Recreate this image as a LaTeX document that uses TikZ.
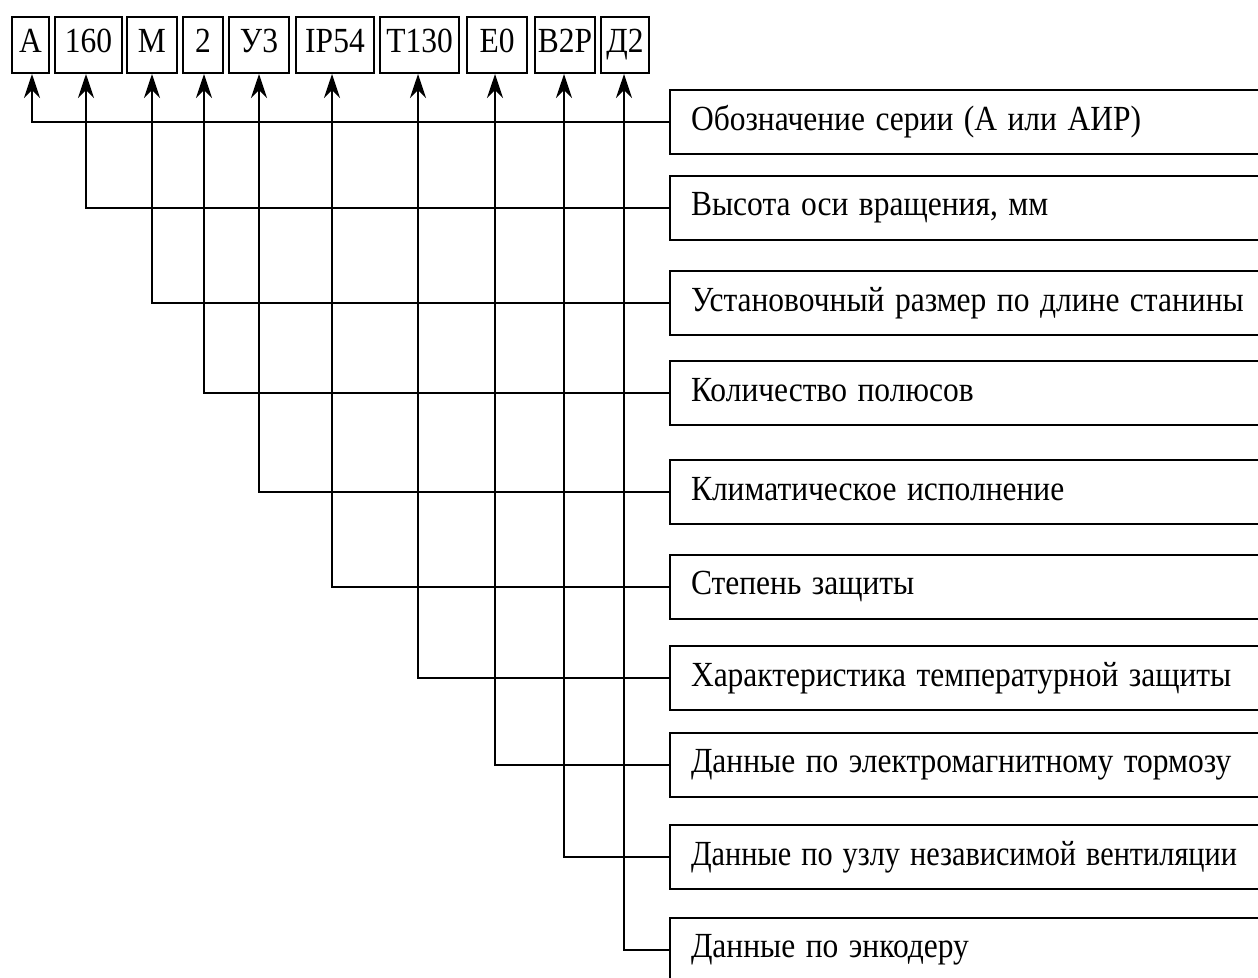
\documentclass[tikz,border=0pt]{standalone}
\usepackage{fontspec}
\setmainfont{Liberation Serif}
\usetikzlibrary{arrows.meta}
\newcommand{\vst}[1]{\scalebox{1}[1.12]{\vphantom{Ду}#1}}
\newcommand{\fitw}[2]{\resizebox{#1}{1.12\height}{\vphantom{Ду}#2}}
\tikzset{
  code/.style={draw=black, line width=2pt, minimum height=56pt, inner sep=0pt, font=\fontsize{31.5}{33}\selectfont},
  desc/.style={draw=black, line width=2pt, minimum height=64pt, text width=660pt, align=left, inner xsep=21pt, inner ysep=0pt, anchor=west, font=\fontsize{31.5}{33}\selectfont},
  link/.style={line width=2pt, -{Stealth[length=24pt, width=16pt, inset=8pt]}}
}
\begin{document}
\begin{tikzpicture}[x=1pt, y=-1pt]
\useasboundingbox (0,0) rectangle (1258,977);
\fill[white] (0,0) rectangle (1258,977);
\begin{scope}
\clip (0,0) rectangle (1258,977);
\node[code, minimum width=37pt] (a1) at (30.5,45) {\vst{А}};
\node[code, minimum width=67pt] (a2) at (88.5,45) {\vst{160}};
\node[code, minimum width=50pt] (a3) at (152,45) {\vst{М}};
\node[code, minimum width=40pt] (a4) at (203,45) {\vst{2}};
\node[code, minimum width=60pt] (a5) at (259,45) {\vst{У3}};
\node[code, minimum width=78pt] (a6) at (335,45) {\vst{IP54}};
\node[code, minimum width=79pt] (a7) at (419.5,45) {\vst{Т130}};
\node[code, minimum width=60pt] (a8) at (497,45) {\vst{Е0}};
\node[code, minimum width=60pt] (a9) at (565,45) {\vst{В2Р}};
\node[code, minimum width=48pt] (a10) at (625,45) {\vst{Д2}};

\node[desc] (b1) at (669,121.5) {\vst{Обозначение серии (А или АИР)}};
\node[desc] (b2) at (669,207.5) {\vst{Высота оси вращения, мм}};
\node[desc] (b3) at (669,303) {\vst{Установочный размер по длине станины}};
\node[desc] (b4) at (669,393.3) {\vst{Количество полюсов}};
\node[desc] (b5) at (669,492.3) {\vst{Климатическое исполнение}};
\node[desc] (b6) at (669,586.5) {\vst{Степень защиты}};
\node[desc] (b7) at (669,678) {\vst{Характеристика температурной защиты}};
\node[desc] (b8) at (669,765) {\vst{Данные по электромагнитному тормозу}};
\node[desc] (b9) at (669,857) {\fitw{546pt}{Данные по узлу независимой вентиляции}};
\node[desc] (b10) at (669,950) {\vst{Данные по энкодеру}};

\coordinate (c1) at (32,0);
\coordinate (c2) at (86,0);
\coordinate (c3) at (152,0);
\coordinate (c4) at (204,0);
\coordinate (c5) at (259,0);
\coordinate (c6) at (332,0);
\coordinate (c7) at (418,0);
\coordinate (c8) at (495,0);
\coordinate (c9) at (564,0);
\coordinate (c10) at (624,0);
\foreach \i in {1,...,10}{
  \draw[link] (b\i.west) -| (c\i |- a\i.south);
}
\end{scope}
\end{tikzpicture}
\end{document}
